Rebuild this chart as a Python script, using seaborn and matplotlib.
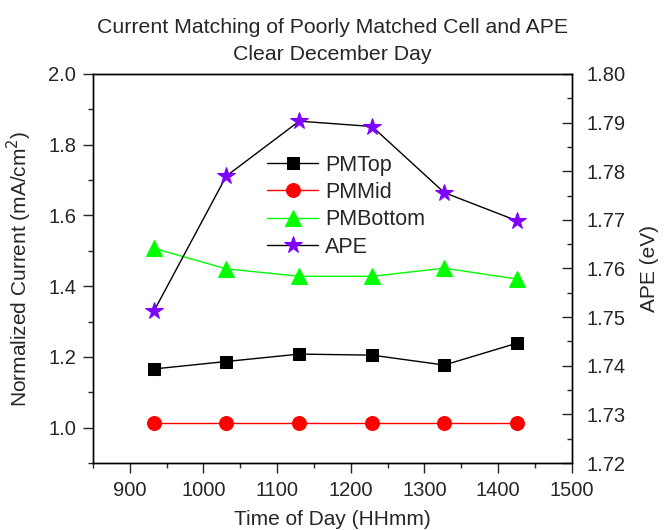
import matplotlib
matplotlib.use("Agg")
import matplotlib.pyplot as plt
from matplotlib.ticker import MultipleLocator
import seaborn as sns
import pandas as pd

time_of_day = [933, 1031, 1130, 1229, 1327, 1426]
pm_top = [1.166, 1.187, 1.208, 1.205, 1.177, 1.239]
pm_mid = [1.012, 1.012, 1.012, 1.012, 1.012, 1.012]
pm_bottom = [1.507, 1.449, 1.428, 1.428, 1.451, 1.420]
ape = [1.7513, 1.7790, 1.7903, 1.7892, 1.7756, 1.7698]

sns.set_style("white")
plt.rcParams['font.family'] = ['Liberation Sans', 'DejaVu Sans']

fig = plt.figure(figsize=(6.64, 5.30), dpi=100)
ax = fig.add_axes([0.140, 0.1264, 0.721, 0.734])
ax2 = ax.twinx()

df = pd.DataFrame({"t": time_of_day, "top": pm_top, "mid": pm_mid,
                   "bot": pm_bottom, "ape": ape})

sns.lineplot(data=df, x="t", y="top", ax=ax, color="black", marker="s",
             markersize=9, markeredgecolor="black", linewidth=1, label="PMTop")
sns.lineplot(data=df, x="t", y="mid", ax=ax, color="red", marker="o",
             markersize=10, markeredgecolor="red", linewidth=1, label="PMMid")
sns.lineplot(data=df, x="t", y="bot", ax=ax, color="#00FF00", marker="^",
             markersize=11, markeredgecolor="#00FF00", linewidth=1, label="PMBottom")
sns.lineplot(data=df, x="t", y="ape", ax=ax2, color="black", marker="*",
             markersize=13, markerfacecolor="#7F00FF", markeredgecolor="#7F00FF",
             linewidth=1, label="APE")

ax.set_xlim(850, 1500)
ax.set_ylim(0.9, 2.0)
ax2.set_ylim(1.72, 1.80)

ax.xaxis.set_major_locator(MultipleLocator(100))
ax.xaxis.set_minor_locator(MultipleLocator(50))
ax.yaxis.set_major_locator(MultipleLocator(0.2))
ax.yaxis.set_minor_locator(MultipleLocator(0.1))
ax2.yaxis.set_major_locator(MultipleLocator(0.01))
ax2.yaxis.set_minor_locator(MultipleLocator(0.005))
ax.yaxis.set_major_formatter(matplotlib.ticker.FormatStrFormatter('%.1f'))
ax2.yaxis.set_major_formatter(matplotlib.ticker.FormatStrFormatter('%.2f'))

fs_tick = 14.5
ax.tick_params(axis='x', which='major', direction='out', length=7, width=1,
               labelsize=fs_tick, bottom=True, top=False, pad=6)
ax.tick_params(axis='x', which='minor', direction='out', length=3.5, width=1, bottom=True)
ax.tick_params(axis='y', which='major', direction='out', length=7, width=1,
               labelsize=fs_tick, left=True, pad=5)
ax.tick_params(axis='y', which='minor', direction='out', length=3.5, width=1, left=True)
ax2.tick_params(axis='y', which='major', direction='in', length=7, width=1,
                labelsize=fs_tick, right=True, pad=11)
ax2.tick_params(axis='y', which='minor', direction='in', length=3.5, width=1, right=True)

for a in (ax, ax2):
    for s in a.spines.values():
        s.set_color("black")
        s.set_linewidth(1)

ax.set_xlabel("Time of Day (HHmm)", fontsize=15, labelpad=7)
ax.set_ylabel("Normalized Current (mA/cm$^2$)", fontsize=15, labelpad=10)
ax2.set_ylabel("APE (eV)", fontsize=15, labelpad=10)
ax.set_title("Current Matching of Poorly Matched Cell and APE\nClear December Day",
             fontsize=15.3, pad=10, linespacing=1.55)

h1, l1 = ax.get_legend_handles_labels()
h2, l2 = ax2.get_legend_handles_labels()
if ax2.get_legend():
    ax2.get_legend().remove()
ax.legend(h1 + h2, l1 + l2, loc='upper left', bbox_to_anchor=(0.345, 0.815),
          frameon=False, fontsize=15.5, handlelength=2.4, labelspacing=0.3,
          handletextpad=0.3, borderaxespad=0)

fig.savefig("out.png", dpi=100)
